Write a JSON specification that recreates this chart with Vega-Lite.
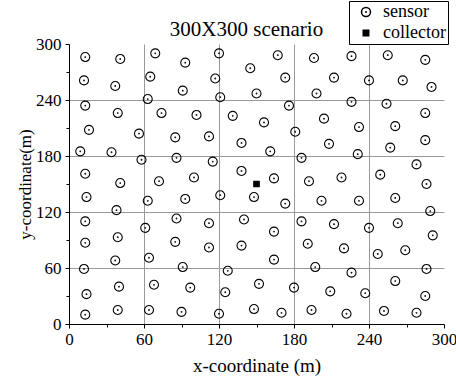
{
  "$schema": "https://vega.github.io/schema/vega-lite/v6.json",
  "autosize": {"type": "none"},
  "padding": {"left": 69, "top": 44, "right": 12, "bottom": 53},
  "width": 375,
  "height": 280,
  "background": "white",
  "config": {
    "font": "Liberation Serif",
    "view": {"stroke": null},
    "style": {
      "guide-label": {"font": "Liberation Serif", "fill": "black"},
      "guide-title": {"font": "Liberation Serif", "fill": "black"},
      "group-title": {"font": "Liberation Serif", "fill": "black"}
    },
    "axis": {
      "domainColor": "black",
      "domainWidth": 1,
      "tickColor": "black",
      "tickWidth": 1,
      "labelColor": "black",
      "labelFontSize": 17,
      "labelFont": "Liberation Serif",
      "titleColor": "black",
      "titleFont": "Liberation Serif",
      "titleFontWeight": "normal",
      "gridColor": "#999999",
      "gridWidth": 1
    },
    "legend": {"labelFont": "Liberation Serif"}
  },
  "title": {
    "text": "300X300 scenario",
    "font": "Liberation Serif",
    "fontSize": 21,
    "fontWeight": "normal",
    "color": "black",
    "anchor": "middle",
    "baseline": "alphabetic",
    "dx": -10,
    "offset": -56
  },
  "data": {
    "values": [
      {"x": 13, "y": 286, "type": "sensor"}, {"x": 41, "y": 284, "type": "sensor"}, {"x": 69, "y": 290, "type": "sensor"}, {"x": 93, "y": 280, "type": "sensor"}, {"x": 120, "y": 290, "type": "sensor"},
      {"x": 12, "y": 261, "type": "sensor"}, {"x": 37, "y": 255, "type": "sensor"}, {"x": 65, "y": 265, "type": "sensor"}, {"x": 91, "y": 250, "type": "sensor"}, {"x": 117, "y": 263, "type": "sensor"},
      {"x": 13, "y": 234, "type": "sensor"}, {"x": 39, "y": 226, "type": "sensor"}, {"x": 63, "y": 241, "type": "sensor"}, {"x": 74, "y": 226, "type": "sensor"}, {"x": 102, "y": 224, "type": "sensor"}, {"x": 121, "y": 243, "type": "sensor"}, {"x": 131, "y": 223, "type": "sensor"},
      {"x": 16, "y": 208, "type": "sensor"}, {"x": 56, "y": 204, "type": "sensor"}, {"x": 85, "y": 200, "type": "sensor"}, {"x": 112, "y": 201, "type": "sensor"}, {"x": 138, "y": 194, "type": "sensor"},
      {"x": 9, "y": 185, "type": "sensor"}, {"x": 34, "y": 184, "type": "sensor"}, {"x": 58, "y": 176, "type": "sensor"}, {"x": 86, "y": 178, "type": "sensor"}, {"x": 115, "y": 174, "type": "sensor"}, {"x": 138, "y": 164, "type": "sensor"},
      {"x": 13, "y": 161, "type": "sensor"}, {"x": 41, "y": 151, "type": "sensor"}, {"x": 72, "y": 153, "type": "sensor"}, {"x": 100, "y": 157, "type": "sensor"},
      {"x": 167, "y": 288, "type": "sensor"}, {"x": 196, "y": 285, "type": "sensor"}, {"x": 226, "y": 287, "type": "sensor"}, {"x": 255, "y": 288, "type": "sensor"}, {"x": 285, "y": 283, "type": "sensor"},
      {"x": 145, "y": 274, "type": "sensor"}, {"x": 173, "y": 264, "type": "sensor"}, {"x": 212, "y": 264, "type": "sensor"}, {"x": 240, "y": 261, "type": "sensor"}, {"x": 267, "y": 261, "type": "sensor"}, {"x": 290, "y": 254, "type": "sensor"},
      {"x": 150, "y": 247, "type": "sensor"}, {"x": 198, "y": 247, "type": "sensor"}, {"x": 176, "y": 234, "type": "sensor"}, {"x": 226, "y": 238, "type": "sensor"}, {"x": 254, "y": 236, "type": "sensor"}, {"x": 285, "y": 226, "type": "sensor"},
      {"x": 156, "y": 216, "type": "sensor"}, {"x": 204, "y": 220, "type": "sensor"}, {"x": 232, "y": 211, "type": "sensor"}, {"x": 261, "y": 212, "type": "sensor"}, {"x": 181, "y": 206, "type": "sensor"},
      {"x": 161, "y": 185, "type": "sensor"}, {"x": 208, "y": 193, "type": "sensor"}, {"x": 257, "y": 189, "type": "sensor"}, {"x": 285, "y": 197, "type": "sensor"},
      {"x": 186, "y": 178, "type": "sensor"}, {"x": 231, "y": 182, "type": "sensor"}, {"x": 278, "y": 171, "type": "sensor"},
      {"x": 164, "y": 156, "type": "sensor"}, {"x": 192, "y": 153, "type": "sensor"}, {"x": 218, "y": 157, "type": "sensor"}, {"x": 249, "y": 160, "type": "sensor"}, {"x": 286, "y": 150, "type": "sensor"},
      {"x": 148, "y": 136, "type": "sensor"}, {"x": 173, "y": 129, "type": "sensor"}, {"x": 202, "y": 132, "type": "sensor"}, {"x": 232, "y": 132, "type": "sensor"}, {"x": 261, "y": 135, "type": "sensor"}, {"x": 289, "y": 121, "type": "sensor"},
      {"x": 140, "y": 112, "type": "sensor"}, {"x": 164, "y": 99, "type": "sensor"}, {"x": 186, "y": 110, "type": "sensor"}, {"x": 212, "y": 107, "type": "sensor"}, {"x": 240, "y": 103, "type": "sensor"}, {"x": 263, "y": 108, "type": "sensor"}, {"x": 291, "y": 95, "type": "sensor"},
      {"x": 138, "y": 84, "type": "sensor"}, {"x": 164, "y": 69, "type": "sensor"}, {"x": 191, "y": 86, "type": "sensor"}, {"x": 220, "y": 81, "type": "sensor"}, {"x": 247, "y": 75, "type": "sensor"}, {"x": 269, "y": 79, "type": "sensor"},
      {"x": 197, "y": 61, "type": "sensor"}, {"x": 226, "y": 55, "type": "sensor"}, {"x": 286, "y": 59, "type": "sensor"},
      {"x": 152, "y": 43, "type": "sensor"}, {"x": 180, "y": 39, "type": "sensor"}, {"x": 209, "y": 35, "type": "sensor"}, {"x": 237, "y": 33, "type": "sensor"}, {"x": 261, "y": 46, "type": "sensor"}, {"x": 285, "y": 30, "type": "sensor"},
      {"x": 148, "y": 16, "type": "sensor"}, {"x": 170, "y": 12, "type": "sensor"}, {"x": 194, "y": 15, "type": "sensor"}, {"x": 222, "y": 11, "type": "sensor"}, {"x": 252, "y": 14, "type": "sensor"}, {"x": 278, "y": 12, "type": "sensor"},
      {"x": 14, "y": 136, "type": "sensor"}, {"x": 63, "y": 132, "type": "sensor"}, {"x": 93, "y": 134, "type": "sensor"}, {"x": 121, "y": 138, "type": "sensor"},
      {"x": 38, "y": 122, "type": "sensor"}, {"x": 13, "y": 110, "type": "sensor"}, {"x": 86, "y": 113, "type": "sensor"}, {"x": 112, "y": 108, "type": "sensor"},
      {"x": 61, "y": 103, "type": "sensor"}, {"x": 39, "y": 93, "type": "sensor"}, {"x": 13, "y": 87, "type": "sensor"}, {"x": 85, "y": 88, "type": "sensor"}, {"x": 112, "y": 82, "type": "sensor"},
      {"x": 37, "y": 68, "type": "sensor"}, {"x": 64, "y": 71, "type": "sensor"}, {"x": 12, "y": 59, "type": "sensor"}, {"x": 91, "y": 61, "type": "sensor"}, {"x": 127, "y": 57, "type": "sensor"},
      {"x": 14, "y": 32, "type": "sensor"}, {"x": 40, "y": 40, "type": "sensor"}, {"x": 68, "y": 42, "type": "sensor"}, {"x": 97, "y": 39, "type": "sensor"}, {"x": 125, "y": 34, "type": "sensor"},
      {"x": 13, "y": 10, "type": "sensor"}, {"x": 39, "y": 15, "type": "sensor"}, {"x": 64, "y": 15, "type": "sensor"}, {"x": 90, "y": 13, "type": "sensor"}, {"x": 120, "y": 11, "type": "sensor"},
      {"x": 150, "y": 150, "type": "collector"}
    ]
  },
  "mark": {"type": "point", "strokeWidth": 1.1, "opacity": 1, "stroke": "black"},
  "encoding": {
    "x": {
      "field": "x", "type": "quantitative",
      "scale": {"domain": [0, 300], "nice": false, "zero": false},
      "axis": {
        "title": "x-coordinate (m)",
        "titleFont": "Liberation Serif",
        "titleFontSize": 19,
        "titlePadding": 9,
        "values": [0, 30, 60, 90, 120, 150, 180, 210, 240, 270, 300],
        "labelExpr": "datum.value % 60 == 0 ? datum.label : ''",
        "labelFont": "Liberation Serif",
        "labelPadding": 3,
        "labelFlush": false,
        "labelOverlap": false,
        "tickSize": {"condition": {"test": "datum.value % 60 != 0", "value": 3}, "value": 4},
        "grid": true,
        "gridOpacity": {"condition": {"test": "datum.value % 60 != 0 || datum.value == 300 || datum.value == 0", "value": 0}, "value": 1}
      }
    },
    "y": {
      "field": "y", "type": "quantitative",
      "scale": {"domain": [0, 300], "nice": false, "zero": false},
      "axis": {
        "title": "y-coordinate(m)",
        "titleFont": "Liberation Serif",
        "titleFontSize": 17,
        "titlePadding": 1,
        "values": [0, 30, 60, 90, 120, 150, 180, 210, 240, 270, 300],
        "labelExpr": "datum.value % 60 == 0 ? datum.label : ''",
        "labelFont": "Liberation Serif",
        "labelPadding": 4,
        "labelFlush": false,
        "labelOverlap": false,
        "tickSize": {"condition": {"test": "datum.value % 60 != 0", "value": 3}, "value": 4},
        "grid": true,
        "gridOpacity": {"condition": {"test": "datum.value % 60 != 0 || datum.value == 300 || datum.value == 0", "value": 0}, "value": 1}
      }
    },
    "shape": {
      "field": "type", "type": "nominal",
      "scale": {"domain": ["sensor", "collector"], "range": ["M-1,0A1,1,0,1,0,1,0A1,1,0,1,0,-1,0ZM-0.08,0A0.08,0.08,0,1,0,0.08,0A0.08,0.08,0,1,0,-0.08,0Z", "square"]},
      "legend": {"title": null, "orient": "none", "legendX": 280, "legendY": -43, "strokeColor": "black", "fillColor": "white", "padding": 2, "labelFontSize": 18, "labelFont": "Liberation Serif", "labelColor": "black", "rowPadding": 3, "labelOffset": 8, "symbolOffset": 6, "cornerRadius": 0}
    },
    "fill": {
      "field": "type", "type": "nominal",
      "scale": {"domain": ["sensor", "collector"], "range": ["transparent", "black"]},
      "legend": {"title": null, "orient": "none", "legendX": 280, "legendY": -43, "strokeColor": "black", "fillColor": "white", "padding": 2, "labelFontSize": 18, "labelFont": "Liberation Serif", "labelColor": "black", "rowPadding": 3, "labelOffset": 8, "symbolOffset": 6, "cornerRadius": 0}
    },
    "size": {
      "field": "type", "type": "nominal",
      "scale": {"domain": ["sensor", "collector"], "range": [81, 30]},
      "legend": {"title": null, "orient": "none", "legendX": 280, "legendY": -43, "strokeColor": "black", "fillColor": "white", "padding": 2, "labelFontSize": 18, "labelFont": "Liberation Serif", "labelColor": "black", "rowPadding": 3, "labelOffset": 8, "symbolOffset": 6, "cornerRadius": 0}
    }
  }
}
